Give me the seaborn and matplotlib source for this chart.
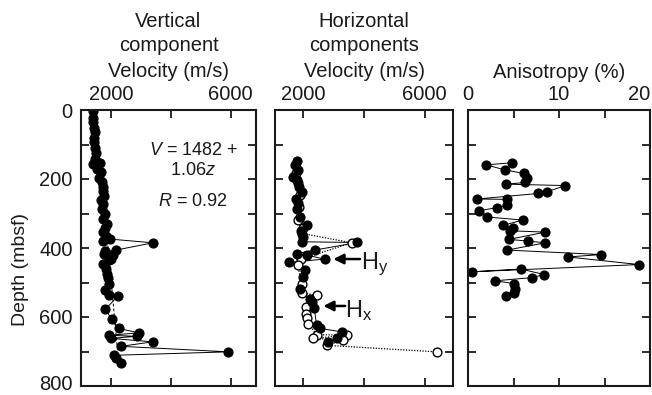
import matplotlib
matplotlib.use("Agg")
import numpy as np
import pandas as pd
import matplotlib.pyplot as plt
import matplotlib.transforms as mtransforms
import seaborn as sns

# ---- Vertical component: depth (mbsf) and velocity (m/s) ----
vz_depth = [2, 22, 36, 51, 65, 80, 94, 109, 126, 143, 155, 157, 172, 181, 196,
            210, 223, 236, 249, 261, 273, 288, 302, 317, 329, 343, 355, 365,
            379, 374, 385, 406, 410, 418, 421, 431, 435, 447, 462, 474, 488,
            503, 522, 537, 540, 578, 607, 633, 646, 653, 656, 662, 672, 685,
            701, 711, 720, 733]
vz_vel = [1400, 1385, 1405, 1440, 1460, 1430, 1440, 1460, 1495, 1475, 1630, 1405,
          1550, 1665, 1605, 1695, 1740, 1720, 1775, 1665, 1740, 1695, 1810,
          1740, 1855, 1810, 1740, 1830, 1720, 1960, 3400, 2170, 1810, 1775,
          2055, 2000, 1920, 1740, 1830, 1855, 1890, 1945, 1810, 1920, 2225,
          1810, 2035, 2255, 2930, 1945, 2860, 2000, 3400, 2335, 5920, 2090,
          2165, 2335]

# Regression of vertical velocity on depth: V = 1482 + 1.06 z
fit_v0 = 1482
fit_slope = 1.06
fit_r = 0.92
fit_depth = [0, 700]

# ---- Horizontal components ----
hy_depth = [148, 160, 174, 194, 203, 223, 237, 257, 271, 286, 310, 334, 351,
            368, 382, 384, 406, 416, 421, 432, 442, 464, 484, 520, 549, 556,
            573, 624, 633, 643, 662, 672]
hy_vel = [1780, 1730, 1815, 1670, 1780, 1860, 1945, 1750, 1840, 1780, 1890,
          2110, 1925, 2000, 1950, 3780, 2385, 1800, 2130, 2700, 1540, 2050,
          2000, 1890, 2220, 2300, 2360, 2440, 2550, 3260, 3100, 2800]

hx_depth = [184, 213, 247, 281, 319, 343, 358, 385, 432, 450, 503, 530, 537,
            571, 590, 604, 619, 651, 653, 662, 667, 682, 701]
hx_vel = [1750, 1840, 1890, 1860, 1815, 2000, 1970, 3600, 1925, 1815, 1950,
          1950, 2440, 2080, 2100, 2110, 2170, 2440, 3430, 2330, 3320, 2770,
          6390]

# ---- Anisotropy (%) ----
an_depth = [153, 159, 174, 184, 196, 210, 215, 219, 237, 242, 258, 259, 276,
            283, 292, 310, 319, 334, 341, 350, 354, 375, 380, 385, 406, 419,
            426, 448, 469, 461, 477, 486, 495, 503, 519, 530, 539]
an_pct = [4.8, 2.0, 4.1, 6.2, 6.5, 6.3, 4.2, 10.7, 8.7, 7.7, 1.0, 4.3, 4.3,
          3.2, 1.2, 2.1, 6.0, 3.9, 4.9, 4.6, 8.5, 4.5, 6.6, 8.5, 4.3, 14.6,
          11.0, 18.8, 0.4, 5.8, 8.4, 7.0, 3.0, 5.0, 5.2, 5.0, 4.2]

vel_ticks = [2000, 4000, 6000]
vel_ticklabels = ["2000", "", "6000"]
an_ticks = [0, 5, 10, 15, 20]
an_ticklabels = ["0", "", "10", "", "20"]
depth_ticks = list(range(0, 801, 100))
depth_ticklabels = [str(d) if d % 200 == 0 else "" for d in depth_ticks]

sns.set_style("ticks")
plt.rcParams.update({
    "font.family": ["Liberation Sans", "DejaVu Sans"],
    "mathtext.fontset": "custom",
    "mathtext.rm": "Liberation Sans",
    "mathtext.it": "Liberation Sans:italic",
    "text.color": "#1a1a1a",
})

W, H = 652, 395
fig = plt.figure(figsize=(W / 100, H / 100), dpi=100)


def box(x0, x1, y0, y1):
    return [x0 / W, 1 - y1 / H, (x1 - x0) / W, (y1 - y0) / H]


ax1 = fig.add_axes(box(81, 256, 110, 386))
ax2 = fig.add_axes(box(275, 453, 110, 386))
ax3 = fig.add_axes(box(468, 650, 110, 386))


def trace(ax, x, y, face, ls="-", lw=0.7):
    df = pd.DataFrame({"x": x, "y": y})
    sns.lineplot(data=df, x="x", y="y", sort=False, estimator=None,
                 color="black", lw=lw, ls=ls, ax=ax, zorder=2)
    sns.scatterplot(data=df, x="x", y="y", s=40, facecolor=face,
                    edgecolor="black", linewidth=1.0, ax=ax, zorder=3)


def style(ax, xlim, xticks, xticklabels, ylabels):
    ax.set_xlim(*xlim)
    ax.set_ylim(800, 0)
    ax.set_xticks(xticks)
    ax.set_xticklabels(xticklabels)
    ax.set_yticks(depth_ticks)
    ax.set_yticklabels(depth_ticklabels if ylabels else [])
    ax.set_xlabel("")
    ax.set_ylabel("")
    ax.xaxis.set_ticks_position("both")
    ax.yaxis.set_ticks_position("both")
    ax.tick_params(axis="both", which="both", direction="in", top=True,
                   bottom=True, left=True, right=True, length=6, width=1.3,
                   labelsize=14.5, colors="#1a1a1a")
    ax.tick_params(axis="x", labeltop=True, labelbottom=False, pad=4)
    ax.tick_params(axis="y", labelleft=ylabels, labelright=False, pad=6)
    for s in ax.spines.values():
        s.set_visible(True)
        s.set_linewidth(1.5)
        s.set_color("#1a1a1a")
        s.set_zorder(5)


# Panel 1: vertical component
fit_df = pd.DataFrame({"z": fit_depth,
                       "v": [fit_v0 + fit_slope * z for z in fit_depth]})
sns.lineplot(data=fit_df, x="v", y="z", sort=False, estimator=None,
             color="black", lw=0.7, ls=(0, (3, 2)), ax=ax1, zorder=1)
trace(ax1, vz_vel, vz_depth, "black")
style(ax1, (1000, 6850), vel_ticks, vel_ticklabels, True)
ax1.text(4750, 116, rf"$V$ = {fit_v0} +", ha="center", va="center", fontsize=13)
ax1.text(4750, 174, rf"{fit_slope:.2f}$z$", ha="center", va="center", fontsize=13)
ax1.text(4750, 264, rf"$R$ = {fit_r:.2f}", ha="center", va="center", fontsize=13)

# keep the lowest depth label inside the canvas
last = ax1.yaxis.get_major_ticks()[-1].label1
last.set_transform(last.get_transform() +
                   mtransforms.ScaledTranslation(0, 3 / 100, fig.dpi_scale_trans))

# Panel 2: horizontal components
trace(ax2, hx_vel, hx_depth, "white", ls=(0, (1, 1.2)), lw=0.9)
trace(ax2, hy_vel, hy_depth, "black")
style(ax2, (1070, 6930), vel_ticks, vel_ticklabels, False)
arrow = dict(arrowstyle="-|>", lw=1.8, color="black", mutation_scale=15,
             shrinkA=0, shrinkB=0)
ax2.annotate("", xy=(2990, 432), xytext=(3870, 432), arrowprops=arrow)
ax2.text(3900, 446, r"H$_\mathregular{y}$", ha="left", va="center", fontsize=17)
ax2.annotate("", xy=(2660, 568), xytext=(3380, 568), arrowprops=arrow)
ax2.text(3390, 582, r"H$_\mathregular{x}$", ha="left", va="center", fontsize=17)

# Panel 3: anisotropy
trace(ax3, an_pct, an_depth, "black")
style(ax3, (0, 20), an_ticks, an_ticklabels, False)
ax3.xaxis.get_major_ticks()[-1].label2.set_horizontalalignment("right")

# Column headings
def heading(xc, lines, baselines):
    for line, yb in zip(lines, baselines):
        fig.text(xc / W, 1 - yb / H, line, ha="center", va="baseline",
                 fontsize=14.5)

heading(168.5, ["Vertical", "component", "Velocity (m/s)"], [27, 51, 77])
heading(364, ["Horizontal", "components", "Velocity (m/s)"], [27, 51, 77])
heading(559, ["Anisotropy (%)"], [78])

fig.text(21 / W, 1 - 270 / H, "Depth (mbsf)", rotation=90, ha="center",
         va="center", fontsize=14)

fig.savefig("out.png", dpi=100)
